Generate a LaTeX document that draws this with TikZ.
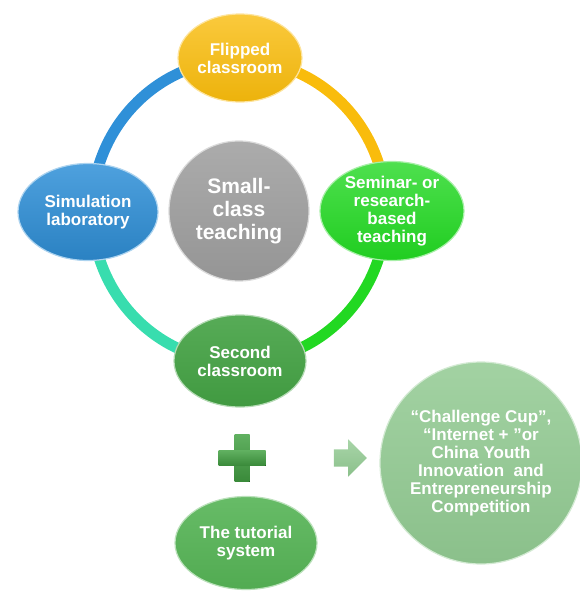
\documentclass[tikz,border=0pt]{standalone}
\usepackage{fontspec}
\setmainfont{Liberation Sans}
\usetikzlibrary{shapes.geometric, shapes.arrows, positioning, backgrounds}

\definecolor{flipcol}{HTML}{F9BC0C}
\definecolor{simcol}{HTML}{2F90D8}
\definecolor{semcol}{HTML}{22D822}
\definecolor{corecol}{HTML}{A2A2A2}
\definecolor{seccol}{HTML}{44A244}
\definecolor{tutcol}{HTML}{56B456}
\definecolor{goalcol}{HTML}{92CA92}
\definecolor{tealcol}{HTML}{38DDAE}

\begin{document}
\begin{tikzpicture}[
  x=1pt, y=-1pt,
  bubble/.style={ellipse, inner sep=0pt, align=center, text=white, line width=1.2pt,
    font=\fontsize{17}{18}\selectfont\bfseries},
  ring/.style={line width=11pt},
  plus/.style={top color=seccol!85!white, bottom color=seccol!85!black},
]
\useasboundingbox (0,0) rectangle (579,605);

% the four teaching modes round the core
\node[bubble, circle, minimum size=140, top color=corecol!90!white, bottom color=corecol!92!black,
  draw=corecol!40!white, font=\fontsize{21}{23}\selectfont\bfseries] (core) at (239,211) {Small-\\class\\teaching};
\node[bubble, minimum width=124, minimum height=88, top color=flipcol!80!white, bottom color=flipcol!95!black,
  draw=flipcol!40!white] (flip) at (240,58) {Flipped\\classroom};
\node[bubble, minimum width=140, minimum height=97, top color=simcol!85!white, bottom color=simcol!90!black,
  draw=simcol!40!white] (sim) at (88,212) {Simulation\\laboratory};
\node[bubble, minimum width=144, minimum height=99, top color=semcol!80!white, bottom color=semcol!95!black,
  draw=semcol!40!white] (sem) at (392,211) {Seminar- or\\research-\\based\\teaching};
\node[bubble, minimum width=132, minimum height=92, top color=seccol!90!white, bottom color=seccol!95!black,
  draw=seccol!40!white] (sec) at (240,361) {Second\\classroom};

% ring joining them, centred on the core
\begin{scope}[on background layer]
  \draw[ring, simcol] (core.center) ++(-147,0) arc[start angle=180, end angle=270, x radius=147, y radius=151];
  \draw[ring, flipcol] (core.center) ++(0,-151) arc[start angle=270, end angle=360, x radius=147, y radius=151];
  \draw[ring, semcol] (core.center) ++(147,0) arc[start angle=0, end angle=90, x radius=147, y radius=151];
  \draw[ring, tealcol] (core.center) ++(0,151) arc[start angle=90, end angle=180, x radius=147, y radius=151];
\end{scope}

% plus the tutorial system, leading to the competitions
\fill[plus] (234.5,434.5) rectangle (249.5,481.5);
\fill[plus] (218.5,450.5) rectangle (265.5,465.5);
\node[bubble, minimum width=142, minimum height=93, top color=tutcol!90!white, bottom color=tutcol!95!black,
  draw=tutcol!40!white] (tut) at (246,543) {The tutorial\\system};
\node[single arrow, inner sep=8.5pt, minimum height=33, single arrow head extend=10pt,
  top color=goalcol!80!white, bottom color=goalcol!95!black] (next) at (346,458) {};
\node[bubble, circle, minimum size=202, top color=goalcol!85!white, bottom color=goalcol!95!black,
  draw=goalcol!40!white] (goal) at (481,463)
  {“Challenge Cup”,\\“Internet + ”or\\China Youth\\Innovation~ and\\Entrepreneurship\\Competition};
\end{tikzpicture}
\end{document}
